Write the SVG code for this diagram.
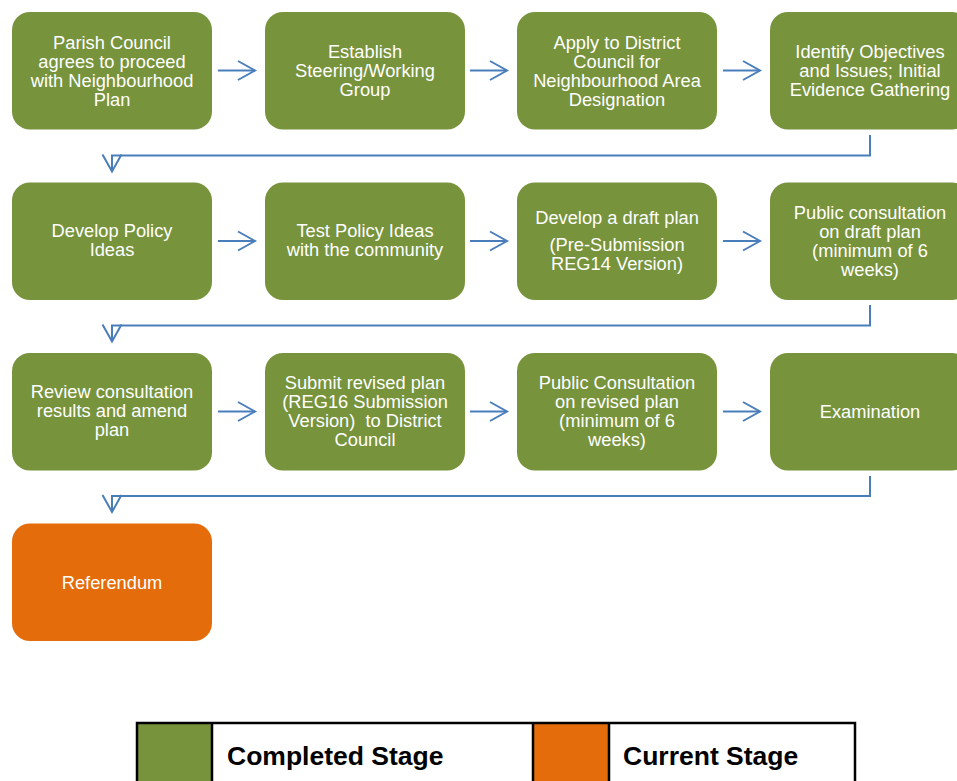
<svg xmlns="http://www.w3.org/2000/svg" width="957" height="781" viewBox="0 0 957 781">
<style>
.done{fill:#77933c}
.cur{fill:#e46c0a}
.lbl{font-family:"Liberation Sans",Arial,sans-serif;font-size:18.3px;fill:#ffffff;text-anchor:middle}
.con{fill:none;stroke:#4a7ebb;stroke-width:2}
.leg{font-family:"Liberation Sans",Arial,sans-serif;font-size:26.5px;font-weight:bold;fill:#000000}
.grid{fill:none;stroke:#000000;stroke-width:2.5}
</style>
<defs>
<marker id="ah" markerUnits="userSpaceOnUse" markerWidth="22" markerHeight="24" refX="19" refY="11" orient="auto">
<path d="M2,1.5 L19,11 L2,20.5" fill="none" stroke="#4a7ebb" stroke-width="2"/>
</marker>
</defs>
<rect width="957" height="781" fill="#ffffff"/>

<g id="n1"><rect class="done" x="12" y="12" width="200" height="117.5" rx="18"/>
<text class="lbl"><tspan x="112" y="48.5">Parish Council</tspan><tspan x="112" y="67.5">agrees to proceed</tspan><tspan x="112" y="86.5">with Neighbourhood</tspan><tspan x="112" y="105.5">Plan</tspan></text></g>
<g id="n2"><rect class="done" x="265" y="12" width="200" height="117.5" rx="18"/>
<text class="lbl"><tspan x="365" y="57.5">Establish</tspan><tspan x="365" y="76.5">Steering/Working</tspan><tspan x="365" y="95.5">Group</tspan></text></g>
<g id="n3"><rect class="done" x="517" y="12" width="200" height="117.5" rx="18"/>
<text class="lbl"><tspan x="617" y="48.5">Apply to District</tspan><tspan x="617" y="67.5">Council for</tspan><tspan x="617" y="86.5">Neighbourhood Area</tspan><tspan x="617" y="105.5">Designation</tspan></text></g>
<g id="n4"><rect class="done" x="770" y="12" width="200" height="117.5" rx="18"/>
<text class="lbl"><tspan x="870" y="57.5">Identify Objectives</tspan><tspan x="870" y="76.5">and Issues; Initial</tspan><tspan x="870" y="95.5">Evidence Gathering</tspan></text></g>

<g id="n5"><rect class="done" x="12" y="182.5" width="200" height="117.5" rx="18"/>
<text class="lbl"><tspan x="112" y="237">Develop Policy</tspan><tspan x="112" y="256">Ideas</tspan></text></g>
<g id="n6"><rect class="done" x="265" y="182.5" width="200" height="117.5" rx="18"/>
<text class="lbl"><tspan x="365" y="237">Test Policy Ideas</tspan><tspan x="365" y="256">with the community</tspan></text></g>
<g id="n7"><rect class="done" x="517" y="182.5" width="200" height="117.5" rx="18"/>
<text class="lbl"><tspan x="617" y="223.5">Develop a draft plan</tspan><tspan x="617" y="250.5">(Pre-Submission</tspan><tspan x="617" y="269.5">REG14 Version)</tspan></text></g>
<g id="n8"><rect class="done" x="770" y="182.5" width="200" height="117.5" rx="18"/>
<text class="lbl"><tspan x="870" y="218.5">Public consultation</tspan><tspan x="870" y="237.5">on draft plan</tspan><tspan x="870" y="256.5">(minimum of 6</tspan><tspan x="870" y="275.5">weeks)</tspan></text></g>

<g id="n9"><rect class="done" x="12" y="353" width="200" height="117.5" rx="18"/>
<text class="lbl"><tspan x="112" y="398">Review consultation</tspan><tspan x="112" y="417">results and amend</tspan><tspan x="112" y="436">plan</tspan></text></g>
<g id="n10"><rect class="done" x="265" y="353" width="200" height="117.5" rx="18"/>
<text class="lbl" xml:space="preserve"><tspan x="365" y="389">Submit revised plan</tspan><tspan x="365" y="408">(REG16 Submission</tspan><tspan x="365" y="427">Version)  to District</tspan><tspan x="365" y="446">Council</tspan></text></g>
<g id="n11"><rect class="done" x="517" y="353" width="200" height="117.5" rx="18"/>
<text class="lbl"><tspan x="617" y="389">Public Consultation</tspan><tspan x="617" y="408">on revised plan</tspan><tspan x="617" y="427">(minimum of 6</tspan><tspan x="617" y="446">weeks)</tspan></text></g>
<g id="n12"><rect class="done" x="770" y="353" width="200" height="117.5" rx="18"/>
<text class="lbl"><tspan x="870" y="417.5">Examination</tspan></text></g>

<g id="n13"><rect class="cur" x="12" y="523.5" width="200" height="117.5" rx="18"/>
<text class="lbl"><tspan x="112" y="588.5">Referendum</tspan></text></g>

<g id="connectors">
<path class="con" marker-end="url(#ah)" d="M218,70.5 H255"/>
<path class="con" marker-end="url(#ah)" d="M470,70.5 H507"/>
<path class="con" marker-end="url(#ah)" d="M723,70.5 H760"/>
<path class="con" marker-end="url(#ah)" d="M870,135 V155.5 H112 V171.5"/>
<path class="con" marker-end="url(#ah)" d="M218,241 H255"/>
<path class="con" marker-end="url(#ah)" d="M470,241 H507"/>
<path class="con" marker-end="url(#ah)" d="M723,241 H760"/>
<path class="con" marker-end="url(#ah)" d="M870,305 V325.5 H112 V341.5"/>
<path class="con" marker-end="url(#ah)" d="M218,411.5 H255"/>
<path class="con" marker-end="url(#ah)" d="M470,411.5 H507"/>
<path class="con" marker-end="url(#ah)" d="M723,411.5 H760"/>
<path class="con" marker-end="url(#ah)" d="M870,476 V496 H112 V512"/>
</g>

<g id="legend">
<rect class="done" x="137" y="723" width="75" height="70"/>
<rect class="cur" x="533" y="723" width="76" height="70"/>
<rect class="grid" x="137" y="723" width="718" height="70"/>
<path class="grid" d="M212,723 V793 M533,723 V793 M609,723 V793"/>
<text class="leg" x="227" y="765">Completed Stage</text>
<text class="leg" x="623" y="765">Current Stage</text>
</g>
</svg>
